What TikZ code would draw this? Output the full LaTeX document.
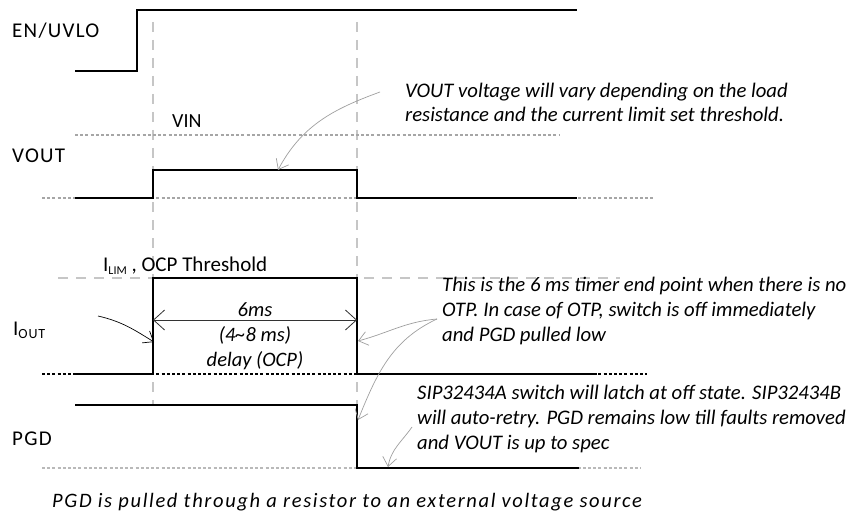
\documentclass[tikz,border=0pt]{standalone}
\usepackage{fontspec}
\setmainfont{Carlito}
\usetikzlibrary{arrows.meta}
\newcommand{\lowsub}[2]{\raisebox{-3pt}{\fontsize{#1}{#1}\selectfont #2}}
\tikzset{
  sig/.style={line width=2.2pt,line join=miter},
  guide/.style={gray!45,line width=1.5pt,dash pattern=on 10pt off 8pt},
  lvl/.style={gray!70,line width=1.4pt,dash pattern=on 3pt off 2.2pt},
  lbl/.style={inner sep=0pt,anchor=base west,font=\fontsize{21}{24}\selectfont\addfontfeature{LetterSpace=6}},
  note/.style={inner sep=0pt,anchor=base west,align=left,font=\fontsize{20.7}{24.7}\selectfont\itshape},
  dimtext/.style={inner sep=0pt,anchor=base,font=\fontsize{20.5}{22}\selectfont\itshape},
  callout/.style={gray!75,line width=0.7pt,-{Straight Barb[length=9pt,width=14pt]}},
  dimline/.style={gray!40!black,line width=0.8pt,{Straight Barb[length=11pt,width=20pt]}-{Straight Barb[length=11pt,width=20pt]}}
}
\begin{document}
\begin{tikzpicture}[x=1pt,y=-1pt]
  \useasboundingbox (0,0) rectangle (854,516);
  \draw[guide] (153,22) -- (153,405);
  \draw[guide] (357,22) -- (357,405);
  \draw[guide] (58,278) -- (620,278);
  \draw[lvl] (75,135) -- (560,135);
  \draw[lvl] (42,198) -- (655,198);
  \draw[lvl,black,line width=1.6pt] (42,374) -- (647,374);
  \draw[lvl,gray!55] (42,468) -- (641,468);
  % waveforms
  \draw[sig] (75,71) -- (137,71) -- (137,10) -- (577,10);
  \draw[sig] (75,198) -- (153,198) -- (153,170) -- (357,170) -- (357,198) -- (577,198);
  \draw[sig] (75,374) -- (153,374) -- (153,278) -- (357,278) -- (357,374) -- (597,374);
  \draw[sig] (75,405) -- (357,405) -- (357,468) -- (579,468);
  % labels
  \node[lbl] (en) at (12,38) {EN/UVLO};
  \node[lbl,font=\fontsize{20}{24}\selectfont] (vin) at (172,128) {VIN};
  \node[lbl] (vout) at (12,163) {VOUT};
  \node[lbl,font=\fontsize{21}{24}\selectfont] (ilim) at (103,271) {I\lowsub{12}{LIM} , OCP Threshold};
  \node[lbl] (iout) at (13,335) {I\lowsub{14}{OUT}};
  \node[lbl] (pgd) at (12,445) {PGD};
  \coordinate (dl) at (153,320);
  \coordinate (dr) at (357,320);
  \draw[dimline] (dl) -- (dr);
  \node[dimtext] (tsix) at (255,316) {6ms};
  \node[dimtext] (trange) at (255,341) {(4\textasciitilde 8 ms)};
  \node[dimtext] (tdelay) at (255,366) {delay (OCP)};
  % notes
  \node[note] (notevout) at (405,122) {VOUT voltage will vary depending on the load\\resistance and the current limit set threshold.};
  \node[note] (notetimer) at (442,341) {This is the 6 ms timer end point when there is no\\OTP. In case of OTP, switch is off immediately\\and PGD pulled low};
  \node[note] (notelatch) at (417,449) {SIP32434A switch will latch at off state. SIP32434B\\will auto-retry. PGD remains low till faults removed\\and VOUT is up to spec};
  \node[inner sep=0pt,anchor=base west,font=\fontsize{20.5}{22}\selectfont\itshape\addfontfeature{LetterSpace=8}] (foot) at (52,507) {PGD is pulled through a resistor to an external voltage source};
  % callouts
  \coordinate (cv) at (380,92);
  \coordinate (vtop) at (278,170);
  \coordinate (ci) at (98,316);
  \coordinate (irise) at (154,342);
  \coordinate (ct) at (437,319);
  \coordinate (ifall) at (358,341);
  \coordinate (pfall) at (358,420);
  \coordinate (cs) at (412,427);
  \coordinate (plow) at (388,467);
  \draw[callout] (cv) to[out=200,in=62] (vtop);
  \draw[callout,black] (ci) to[out=-13,in=148] (irise);
  \draw[callout] (ct) to[out=185,in=15] (ifall);
  \draw[callout] (ct) to[out=205,in=68] (pfall);
  \draw[callout] (cs) to[out=235,in=80] (plow);
\end{tikzpicture}
\end{document}
